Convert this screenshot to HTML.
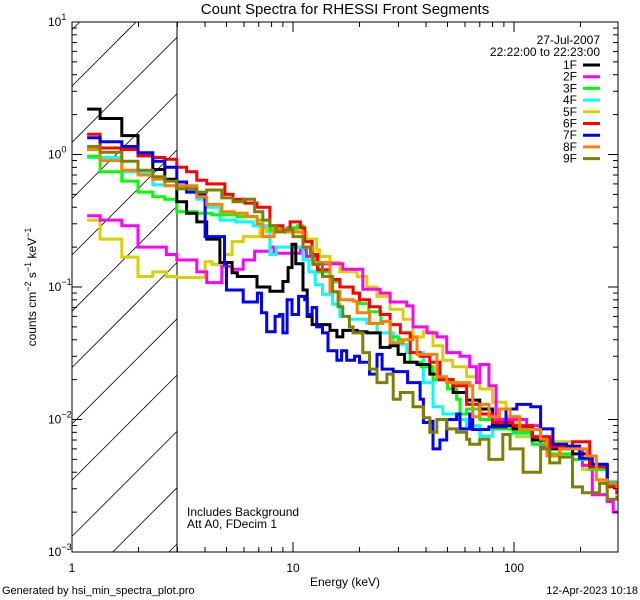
<!DOCTYPE html>
<html><head><meta charset="utf-8">
<style>
html,body{margin:0;padding:0;background:#fff;width:640px;height:600px;overflow:hidden;}
svg{display:block;font-family:"Liberation Sans",sans-serif;overflow:hidden;}
</style></head>
<body>
<svg id="chart" width="640" height="600" viewBox="0 0 640 600">
<defs><clipPath id="plotclip"><rect x="72" y="22" width="546" height="530"/></clipPath></defs>
<text x="345" y="14" font-size="15" text-anchor="middle">Count Spectra for RHESSI Front Segments</text>
<g id="hatch"></g>
<line x1="177" y1="22" x2="177" y2="552" stroke="#000" stroke-width="1"/>
<g id="series" clip-path="url(#plotclip)"></g>
<rect x="72" y="22" width="546" height="530" fill="none" stroke="#000" stroke-width="1"/>
<g id="axes"></g>
<g id="legend"></g>
<text x="187" y="516" font-size="12">Includes Background</text>
<text x="187" y="528" font-size="12">Att A0, FDecim 1</text>
<text x="345" y="586" font-size="12" text-anchor="middle">Energy (keV)</text>
<text transform="translate(36,287) rotate(-90)" font-size="12" text-anchor="middle">counts cm<tspan font-size="9" dy="-5">−2</tspan><tspan dy="5"> s</tspan><tspan font-size="9" dy="-5">−1</tspan><tspan dy="5"> keV</tspan><tspan font-size="9" dy="-5">−1</tspan></text>
<text x="2" y="594" font-size="11">Generated by hsi_min_spectra_plot.pro</text>
<text x="638" y="594" font-size="11" text-anchor="end">12-Apr-2023 10:18</text>
</svg>
<script>
const seriesNames=["1F","2F","3F","4F","5F","6F","7F","8F","9F"];
const seriesColors=["#000000","#ff00ff","#00ff00","#00ffff","#d8d000","#ff0000","#0000ff","#ff8000","#808000"];
const xTickLabels=["1","10","100"];
const yTickExps=["1","0","−1","−2","−3"];
const s1F=[[1.17,2.2],[1.34,1.87],[1.68,1.39],[1.99,0.98],[2.32,0.77],[2.63,0.65],[2.98,0.44],[3.3,0.36],[3.67,0.31],[4.07,0.23],[4.67,0.153],[5.3,0.128],[5.6,0.12],[6.87,0.1],[7.86,0.093],[9.0,0.11],[9.5,0.14],[9.9,0.21],[10.3,0.15],[11.1,0.095],[11.6,0.06],[12.2,0.052],[14.7,0.047],[15.8,0.042],[16.8,0.047],[19.5,0.046],[21.6,0.045],[24.8,0.035],[27.5,0.036],[29.9,0.031],[32,0.027],[36.4,0.026],[41.6,0.022],[46,0.02],[53,0.016],[61,0.014],[70,0.012],[80,0.009],[99,0.0085],[121,0.007],[145,0.006],[184,0.0055],[220,0.0045],[264,0.0033],[292,0.003]];
const s2F=[[1.17,0.345],[1.34,0.32],[1.68,0.29],[1.99,0.2],[2.32,0.2],[2.67,0.176],[2.98,0.16],[3.67,0.13],[4.07,0.108],[4.76,0.143],[5.3,0.136],[5.95,0.16],[6.7,0.186],[7.86,0.2],[8.2,0.18],[9.4,0.18],[10.8,0.19],[11.5,0.17],[13,0.15],[15,0.15],[16.8,0.136],[20.7,0.096],[24.8,0.09],[27.5,0.077],[32.7,0.072],[34.9,0.05],[40.4,0.045],[44.8,0.042],[49.6,0.032],[57,0.03],[63,0.025],[67.6,0.019],[70,0.026],[77,0.018],[83,0.01],[114,0.009],[132,0.0063],[161,0.006],[204,0.0045],[226,0.0027],[264,0.0024],[281,0.002]];
const s3F=[[1.17,0.97],[1.34,0.74],[1.68,0.63],[1.99,0.52],[2.32,0.48],[2.63,0.46],[2.98,0.37],[3.67,0.36],[4.3,0.35],[5.6,0.34],[6.87,0.32],[7.86,0.27],[9.4,0.28],[10.5,0.29],[11.1,0.22],[12.2,0.16],[13,0.13],[14.7,0.11],[16.3,0.1],[18.7,0.09],[20,0.075],[22,0.065],[25,0.055],[27.5,0.042],[30,0.04],[33.9,0.027],[38,0.025],[43,0.02],[50,0.017],[55,0.0142],[57,0.011],[61,0.012],[70,0.01],[80,0.0085],[99,0.008],[121,0.0065],[145,0.0055],[184,0.005],[220,0.0042],[264,0.0032],[292,0.003]];
const s4F=[[1.17,0.95],[1.68,0.74],[1.99,0.73],[2.32,0.59],[2.63,0.58],[2.98,0.56],[3.67,0.46],[4.07,0.4],[4.67,0.32],[5.5,0.31],[6.6,0.29],[7.86,0.176],[8.4,0.2],[11.1,0.16],[11.8,0.13],[12.6,0.104],[13.6,0.088],[15.1,0.074],[16.3,0.06],[18,0.057],[21.6,0.053],[24,0.045],[28.4,0.037],[32.7,0.032],[38.9,0.019],[43,0.0125],[47.6,0.011],[55,0.01],[61,0.009],[70,0.0075],[80,0.0085],[99,0.0078],[121,0.0065],[145,0.006],[184,0.005],[220,0.0045],[264,0.0034],[292,0.003]];
const s5F=[[1.17,0.32],[1.34,0.23],[1.68,0.168],[1.99,0.12],[2.32,0.13],[2.67,0.12],[2.98,0.118],[3.3,0.118],[4.0,0.155],[4.3,0.148],[4.9,0.176],[5.3,0.22],[5.95,0.24],[7.1,0.28],[7.6,0.26],[8.1,0.28],[9,0.27],[10.5,0.26],[11.5,0.23],[12.8,0.19],[13.2,0.17],[14.7,0.153],[16.3,0.13],[19.5,0.12],[21.6,0.1],[24,0.085],[27.5,0.068],[31.5,0.057],[34.9,0.042],[38.9,0.046],[43,0.036],[47.6,0.028],[52.8,0.025],[61,0.021],[70,0.017],[80,0.0135],[92,0.0105],[103,0.0074],[132,0.0068],[184,0.006],[204,0.0042],[264,0.0032],[292,0.003]];
const s6F=[[1.17,1.42],[1.34,1.12],[1.68,1.09],[1.99,0.98],[2.32,0.95],[2.63,0.92],[2.98,0.8],[3.3,0.74],[3.67,0.64],[4.07,0.6],[4.92,0.5],[5.35,0.46],[6.06,0.43],[6.87,0.4],[7.86,0.29],[9.0,0.26],[9.7,0.31],[10.8,0.28],[11.3,0.22],[12.2,0.176],[12.9,0.135],[14.7,0.114],[16.3,0.1],[18.7,0.09],[20,0.08],[22.2,0.071],[24.8,0.062],[27.5,0.052],[30.6,0.045],[33.9,0.032],[37.6,0.03],[41.6,0.027],[46.2,0.02],[52.8,0.018],[61,0.013],[70,0.011],[80,0.0095],[99,0.009],[121,0.0074],[145,0.0062],[184,0.0068],[220,0.0044],[264,0.0031],[292,0.0028]];
const s7F=[[1.17,1.34],[1.34,1.25],[1.68,1.15],[1.99,1.03],[2.32,0.89],[2.63,0.8],[2.98,0.62],[3.3,0.52],[3.67,0.5],[4.0,0.24],[4.9,0.15],[5.0,0.095],[5.95,0.077],[6.9,0.09],[7.2,0.064],[7.6,0.046],[8.3,0.06],[8.7,0.062],[9.0,0.045],[9.4,0.08],[9.9,0.062],[10.6,0.085],[11.3,0.08],[11.6,0.062],[12.2,0.07],[12.8,0.05],[13.6,0.045],[14.4,0.033],[15.8,0.028],[16.6,0.033],[17.5,0.028],[19,0.03],[20,0.027],[22.2,0.022],[24,0.031],[25.3,0.024],[28.4,0.023],[30.6,0.023],[33,0.019],[37.6,0.0142],[38.9,0.0095],[41.6,0.0097],[43,0.006],[46.2,0.007],[49.6,0.01],[55,0.011],[57,0.0085],[63,0.011],[65,0.0084],[77,0.0088],[92,0.012],[103,0.013],[119,0.0125],[132,0.0085],[150,0.0065],[173,0.0063],[198,0.0051],[226,0.0046],[264,0.0033],[292,0.003]];
const s8F=[[1.17,1.09],[1.34,0.9],[1.68,0.76],[1.99,0.7],[2.32,0.65],[2.63,0.58],[3.3,0.58],[3.67,0.48],[4.07,0.42],[4.76,0.37],[5.4,0.36],[6.2,0.34],[6.87,0.3],[7.3,0.24],[8.2,0.27],[9.4,0.26],[11.1,0.2],[12.3,0.153],[14.7,0.092],[16.3,0.08],[18.7,0.078],[19.5,0.064],[22.2,0.053],[25.5,0.055],[27.5,0.038],[31.5,0.04],[34.9,0.042],[36.4,0.031],[40.4,0.031],[44.8,0.021],[49.6,0.019],[63,0.018],[65,0.0105],[70,0.013],[77,0.0105],[86,0.012],[96,0.0105],[106,0.0084],[132,0.0071],[141,0.0053],[161,0.006],[214,0.0053],[236,0.0035],[264,0.0033],[292,0.003]];
const s9F=[[1.17,1.15],[1.34,1.04],[1.68,0.89],[1.99,0.76],[2.32,0.68],[2.63,0.63],[2.98,0.55],[3.67,0.52],[4.07,0.54],[4.76,0.47],[5.35,0.44],[5.95,0.46],[6.7,0.37],[7.3,0.32],[7.86,0.29],[8.4,0.26],[9,0.27],[10,0.24],[11.1,0.2],[12,0.18],[12.3,0.148],[13.6,0.12],[15.1,0.092],[16,0.071],[16.8,0.06],[18,0.05],[18.7,0.045],[20.7,0.032],[22.2,0.024],[24,0.019],[26.6,0.022],[28.4,0.0142],[30.6,0.016],[34.9,0.0125],[38.9,0.0103],[41.6,0.008],[44.8,0.01],[49.6,0.0085],[55,0.008],[61,0.0071],[63,0.0065],[70,0.0071],[77,0.005],[89,0.0077],[96,0.006],[110,0.004],[132,0.006],[145,0.0047],[161,0.0052],[184,0.0031],[204,0.0028],[244,0.0033],[264,0.0025],[292,0.0026]];
const allSeries=[s1F,s2F,s3F,s4F,s5F,s6F,s7F,s8F,s9F];
const drawOrder=[4,1,3,2,0,5,6,7,8];

const NS="http://www.w3.org/2000/svg";
const X0=72,X1=618,Y0=552,Y1=22,XDEC=221,YDEC=132.5;
const EMAX=295;
function xs(e){return X0+XDEC*Math.log10(e);}
function ys(v){return Y0-YDEC*(Math.log10(v)+3);}
function mk(tag,attrs,parent){const el=document.createElementNS(NS,tag);for(const k in attrs)el.setAttribute(k,attrs[k]);parent.appendChild(el);return el;}

// hatch lines y = c - (x-72), clipped analytically to x in [72,177], y in [22,552]
const hatch=document.getElementById('hatch');
for(let k=-3;k<12;k++){
  const c=86+56.3*k;
  let xa=72, xb=177;
  xa=Math.max(xa,72+c-552);
  xb=Math.min(xb,72+c-22);
  if(xb<=xa)continue;
  const ln=mk('line',{x1:xa,y1:c-(xa-72),x2:xb,y2:c-(xb-72),stroke:'#000','stroke-width':0.8},hatch);
  
  
}

const sg=document.getElementById('series');
drawOrder.forEach(i=>{
  const d=allSeries[i];
  let p='';
  for(let j=0;j<d.length;j++){
    const xa=xs(d[j][0]),xb=xs(j+1<d.length?d[j+1][0]:EMAX),y=ys(d[j][1]);
    p+=(j===0?'M':'L')+xa.toFixed(1)+','+y.toFixed(1)+'L'+xb.toFixed(1)+','+y.toFixed(1);
  }
  const path=mk('path',{d:p,fill:'none',stroke:seriesColors[i],'stroke-width':3,'stroke-linejoin':'miter'},sg);
  
  
});

const ax=document.getElementById('axes');
for(let dec=0;dec<3;dec++){
  for(let m=1;m<10;m++){
    const e=Math.pow(10,dec)*m; if(e>EMAX)break;
    const x=xs(e),len=m===1?10:5;
    if(x>X1)break;
    const t1=mk('line',{x1:x,y1:Y0,x2:x,y2:Y0-len,stroke:'#000','stroke-width':1},ax);
    
    
    const t2=mk('line',{x1:x,y1:Y1,x2:x,y2:Y1+len,stroke:'#000','stroke-width':1},ax);
    
    
  }
}
xTickLabels.forEach((lab,i)=>{
  const t=mk('text',{x:xs(Math.pow(10,i)),y:572,'font-size':12,'text-anchor':'middle'},ax);
  t.textContent=lab;
  
  
});
for(let dec=-3;dec<1;dec++){
  for(let m=1;m<10;m++){
    const y=ys(Math.pow(10,dec)*m),len=m===1?10:5;
    const t1=mk('line',{x1:X0,y1:y,x2:X0+len,y2:y,stroke:'#000','stroke-width':1},ax);
    
    
    const t2=mk('line',{x1:X1,y1:y,x2:X1-len,y2:y,stroke:'#000','stroke-width':1},ax);
    
    
  }
}
yTickExps.forEach((lab,i)=>{
  const y=ys(Math.pow(10,1-i));
  const t=mk('text',{x:48,y:y+4,'font-size':12},ax);
  
  
  t.textContent='10';
  const sp=mk('tspan',{'font-size':9,dy:-6},t);
  sp.textContent=lab;
});

const lg=document.getElementById('legend');
const h1=mk('text',{x:600,y:44,'font-size':12,'text-anchor':'end'},lg);
h1.textContent='27-Jul-2007';


const h2=mk('text',{x:600,y:56,'font-size':12,'text-anchor':'end'},lg);
h2.textContent='22:22:00 to 22:23:00';


seriesNames.forEach((n,i)=>{
  const y=65+11.7*i;
  const t=mk('text',{x:577,y:y+4,'font-size':12,'text-anchor':'end'},lg);
  t.textContent=n;
  
  
  const l=mk('line',{x1:583,y1:y,x2:600,y2:y,stroke:seriesColors[i],'stroke-width':3},lg);
  
  
});
</script>
</body></html>
